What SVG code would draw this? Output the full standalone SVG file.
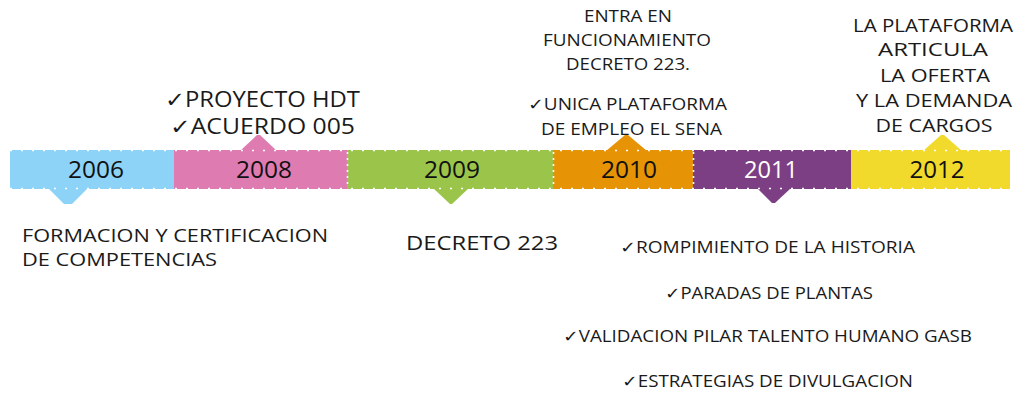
<svg xmlns="http://www.w3.org/2000/svg" width="1027" height="393" viewBox="0 0 1027 393">
<style>
.t{font-family:"Open Sans","Liberation Sans","DejaVu Sans",sans-serif;fill:#1a1a1a;}
.yr{font-family:"Open Sans","Liberation Sans","DejaVu Sans",sans-serif;font-size:23px;text-anchor:middle;fill:#111;}
.perf{stroke:#fff;stroke-width:1.6;stroke-dasharray:2 9;fill:none;}
.sep{stroke:#fff;stroke-width:1.6;stroke-dasharray:2 4;fill:none;}
.ck{font-family:"DejaVu Sans",sans-serif;}
</style>
<rect width="1027" height="393" fill="#fff"/>
<g id="seg2006">
<rect x="10" y="150" width="164" height="39" fill="#8DD3F7"/>
<polygon points="48,188 88,188 72,204 64,204" fill="#8DD3F7"/>
<text class="yr" x="96" y="178" textLength="56" lengthAdjust="spacingAndGlyphs">2006</text>
</g>
<g id="seg2008">
<rect x="174" y="150" width="173" height="39" fill="#DE7BB1"/>
<polygon points="240,151 277,151 260,135 257,135" fill="#DE7BB1"/>
<text class="yr" x="264" y="178" textLength="56" lengthAdjust="spacingAndGlyphs">2008</text>
</g>
<g id="seg2009">
<rect x="347" y="150" width="206" height="39" fill="#9BC44A"/>
<polygon points="433,188 469,188 452,204 450,204" fill="#9BC44A"/>
<text class="yr" x="452" y="178" textLength="56" lengthAdjust="spacingAndGlyphs">2009</text>
</g>
<g id="seg2010">
<rect x="553" y="150" width="140" height="39" fill="#E69306"/>
<polygon points="606,151 647,151 628,135 625,135" fill="#E69306"/>
<text class="yr" x="629" y="178" textLength="56" lengthAdjust="spacingAndGlyphs">2010</text>
</g>
<g id="seg2011">
<rect x="693" y="150" width="158" height="39" fill="#7D3F83"/>
<polygon points="757,188 791,188 775,203 772,203" fill="#7D3F83"/>
<text class="yr" x="771" y="178" style="fill:#fff" textLength="54" lengthAdjust="spacingAndGlyphs">2011</text>
</g>
<g id="seg2012">
<rect x="851" y="150" width="159" height="39" fill="#F2DA2C"/>
<polygon points="923,151 962,151 944,135 941,135" fill="#F2DA2C"/>
<text class="yr" x="937" y="178" textLength="55" lengthAdjust="spacingAndGlyphs">2012</text>
</g>
<g id="connectors">
<line class="perf" x1="10" y1="150.5" x2="1010" y2="150.5"/>
<line class="perf" x1="10" y1="188.5" x2="1010" y2="188.5"/>
<line class="sep" x1="347.5" y1="152" x2="347.5" y2="188"/>
<line class="sep" x1="553.5" y1="152" x2="553.5" y2="188"/>
<line class="sep" x1="693.5" y1="152" x2="693.5" y2="188"/>
</g>
<g id="label2008">
<text class="t" x="165" y="107" font-size="21" textLength="195" lengthAdjust="spacingAndGlyphs"><tspan class="ck" font-weight="bold">✓</tspan>PROYECTO HDT</text>
<text class="t" x="170" y="134" font-size="21" textLength="185" lengthAdjust="spacingAndGlyphs"><tspan class="ck" font-weight="bold">✓</tspan>ACUERDO 005</text>
</g>
<g id="label2010">
<text class="t" x="628" y="22" font-size="16" text-anchor="middle" textLength="88" lengthAdjust="spacingAndGlyphs">ENTRA EN</text>
<text class="t" x="627" y="46" font-size="16" text-anchor="middle" textLength="168" lengthAdjust="spacingAndGlyphs">FUNCIONAMIENTO</text>
<text class="t" x="628" y="70" font-size="16" text-anchor="middle" textLength="124" lengthAdjust="spacingAndGlyphs">DECRETO 223.</text>
<text class="t" x="528" y="110" font-size="16" textLength="199" lengthAdjust="spacingAndGlyphs"><tspan class="ck">✓</tspan>UNICA PLATAFORMA</text>
<text class="t" x="541" y="135" font-size="16" textLength="181" lengthAdjust="spacingAndGlyphs">DE EMPLEO EL SENA</text>
</g>
<g id="label2012">
<text class="t" x="933" y="32" font-size="19" text-anchor="middle" textLength="160" lengthAdjust="spacingAndGlyphs">LA PLATAFORMA</text>
<text class="t" x="933" y="56" font-size="19" text-anchor="middle" textLength="110" lengthAdjust="spacingAndGlyphs">ARTICULA</text>
<text class="t" x="935" y="82" font-size="19" text-anchor="middle" textLength="110" lengthAdjust="spacingAndGlyphs">LA OFERTA</text>
<text class="t" x="934" y="107" font-size="19" text-anchor="middle" textLength="156" lengthAdjust="spacingAndGlyphs">Y LA DEMANDA</text>
<text class="t" x="934" y="132" font-size="19" text-anchor="middle" textLength="117" lengthAdjust="spacingAndGlyphs">DE CARGOS</text>
</g>
<g id="label2006">
<text class="t" x="22" y="242" font-size="19" textLength="306" lengthAdjust="spacingAndGlyphs">FORMACION Y CERTIFICACION</text>
<text class="t" x="22" y="266" font-size="19" textLength="195" lengthAdjust="spacingAndGlyphs">DE COMPETENCIAS</text>
</g>
<g id="label2009">
<text class="t" x="406" y="250" font-size="20" textLength="152" lengthAdjust="spacingAndGlyphs">DECRETO 223</text>
</g>
<g id="label2011">
<text class="t" x="620" y="253" font-size="16" textLength="295" lengthAdjust="spacingAndGlyphs"><tspan class="ck">✓</tspan>ROMPIMIENTO DE LA HISTORIA</text>
<text class="t" x="665" y="299" font-size="16" textLength="208" lengthAdjust="spacingAndGlyphs"><tspan class="ck">✓</tspan>PARADAS DE PLANTAS</text>
<text class="t" x="563" y="342" font-size="16" textLength="409" lengthAdjust="spacingAndGlyphs"><tspan class="ck">✓</tspan>VALIDACION PILAR TALENTO HUMANO GASB</text>
<text class="t" x="622" y="387" font-size="16" textLength="291" lengthAdjust="spacingAndGlyphs"><tspan class="ck">✓</tspan>ESTRATEGIAS DE DIVULGACION</text>
</g>
</svg>
